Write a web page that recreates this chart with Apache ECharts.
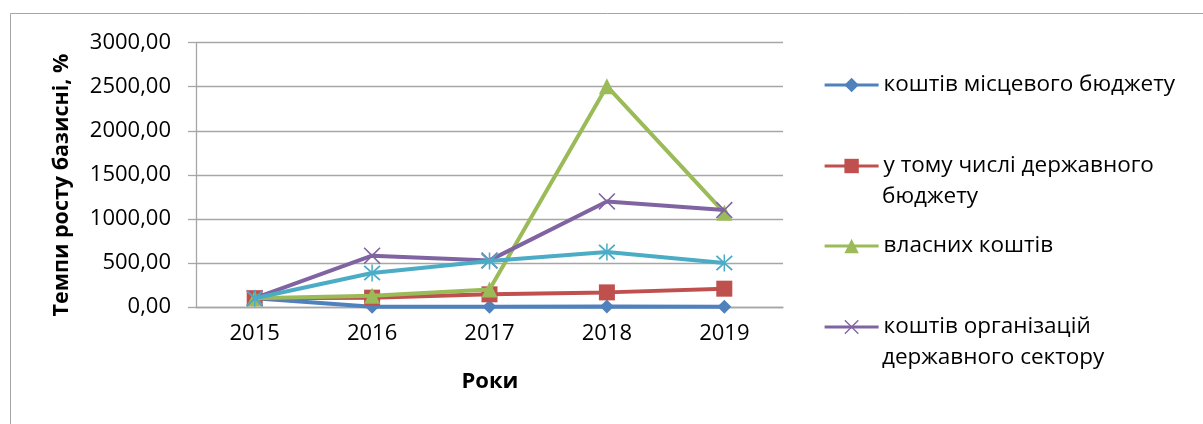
<!DOCTYPE html>
<html><head><meta charset="utf-8">
<script src="https://cdn.jsdelivr.net/npm/echarts@6/dist/echarts.min.js"></script>
<style>html,body{margin:0;padding:0;background:#fff}#c{width:1203px;height:424px}</style>
</head><body><div id="c"></div>
<script>
const categories = ['2015','2016','2017','2018','2019'];
const localBudget = [100, 2, 3, 5, 3];
const stateBudget = [100, 106, 144, 166, 208];
const ownFunds = [100, 128, 200, 2506, 1070];
const publicSector = [100, 582, 529, 1198, 1100];
const otherSeries = [100, 386, 522, 624, 499];
const yTicks = {min: 0, max: 3000, interval: 500};

const names = ['коштів місцевого бюджету', 'у тому числі державного бюджету', 'власних коштів', 'коштів організацій державного сектору', 'інше'];
const firstLines = ['коштів місцевого бюджету', 'у тому числі державного', 'власних коштів', 'коштів організацій'];
const secondLines = ['', 'бюджету', '', 'державного сектору'];

const FONT = 'Open Sans';
const xPath = 'path://M0,1.3 L1.3,0 L10,8.7 L18.7,0 L20,1.3 L11.3,10 L20,18.7 L18.7,20 L10,11.3 L1.3,20 L0,18.7 L8.7,10 Z';
const starPath = 'path://M0,1.5 L1.5,0 L10,8.5 L18.5,0 L20,1.5 L11.5,10 L20,18.5 L18.5,20 L10,11.5 L1.5,20 L0,18.5 L8.5,10 Z M9.1,-1 L10.9,-1 L10.9,21 L9.1,21 Z';

const colors = ['#4f81bd', '#c0504d', '#9bbb59', '#8064a2', '#4bacc6'];
const symbols = ['diamond', 'rect', 'triangle', xPath, starPath];
const sizes = [14, 16, 16, 17, 17];
const datas = [localBudget, stateBudget, ownFunds, publicSector, otherSeries];

const series = datas.map((d, i) => ({
  name: names[i], type: 'line', data: d,
  symbol: symbols[i], symbolSize: sizes[i],
  showAllSymbol: true,
  lineStyle: {color: colors[i], width: 4},
  itemStyle: {color: colors[i], borderWidth: 0},
  z: 2 + i,
  animation: false
}));

const legendCenters = [85, 166, 246, 327];
const legends = legendCenters.map((cy, i) => ({
  data: [names[i]],
  left: 823, top: cy - 15.5, padding: 0,
  orient: 'vertical',
  itemWidth: 54, itemHeight: 18, itemGap: 0,
  lineStyle: {width: 3.2},
  formatter: () => firstLines[i],
  textStyle: {fontFamily: FONT, fontSize: 22.5, color: '#000', lineHeight: 31},
  selectedMode: false
}));

const fmt = v => v.toFixed(2).replace('.', ',');

const option = {
  animation: false,
  backgroundColor: '#fff',
  grid: {left: 196, right: 420, top: 42.7, bottom: 117, containLabel: false},
  legend: legends,
  xAxis: {
    type: 'category', data: categories, boundaryGap: true,
    axisLine: {lineStyle: {color: '#a6a6a6', width: 1.3}},
    axisTick: {show: false},
    axisLabel: {fontFamily: FONT, fontSize: 22, color: '#000', margin: 16}
  },
  yAxis: {
    type: 'value', min: yTicks.min, max: yTicks.max, interval: yTicks.interval,
    axisLine: {show: true, lineStyle: {color: '#a6a6a6', width: 1.3}},
    axisTick: {show: true, length: 8, lineStyle: {color: '#a6a6a6', width: 1.3}},
    splitLine: {lineStyle: {color: '#a6a6a6', width: 1.3}},
    axisLabel: {fontFamily: FONT, fontSize: 22, color: '#000', margin: 25, formatter: fmt}
  },
  series: series,
  graphic: [
    {type: 'rect', shape: {x: 10.5, y: 13.5, width: 1210, height: 430}, style: {fill: 'none', stroke: '#a6a6a6', lineWidth: 1}, silent: true, z: -1},
    {type: 'text', x: 62, y: 185, rotation: Math.PI / 2, style: {text: 'Темпи росту базисні, %', fontFamily: FONT, fontSize: 21.5, fontWeight: 'bold', fill: '#000', textAlign: 'center', textVerticalAlign: 'middle'}},
    {type: 'text', x: 490, y: 382, style: {text: 'Роки', fontFamily: FONT, fontSize: 22, fontWeight: 'bold', fill: '#000', textAlign: 'center', textVerticalAlign: 'middle'}},
    {type: 'text', x: 882, y: 197, style: {text: secondLines[1], fontFamily: FONT, fontSize: 22.5, fill: '#000', textAlign: 'left', textVerticalAlign: 'middle'}},
    {type: 'text', x: 882, y: 358, style: {text: secondLines[3], fontFamily: FONT, fontSize: 22.5, fill: '#000', textAlign: 'left', textVerticalAlign: 'middle'}}
  ]
};
const chart = echarts.init(document.getElementById('c'), null, {renderer: 'canvas'});
chart.setOption(option);
</script></body></html>
